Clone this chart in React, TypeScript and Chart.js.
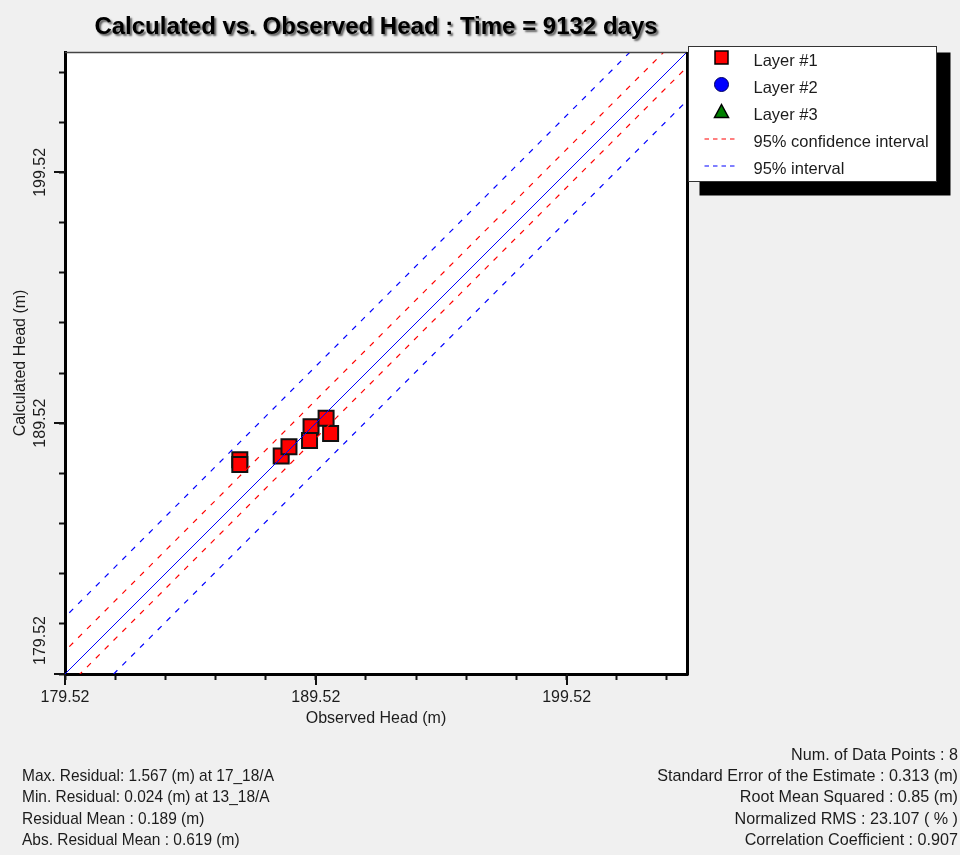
import React, { useEffect, useRef } from 'react';
import { Chart, registerables } from 'chart.js';

Chart.register(...registerables);

const FONT = '"Liberation Sans", Arial, Helvetica, sans-serif';
const TEXT = '#1c1c1c';

const TITLE = 'Calculated vs. Observed Head : Time = 9132 days';
const X_TITLE = 'Observed Head (m)';
const Y_TITLE = 'Calculated Head (m)';

const AXIS_MIN = 179.52;
const AXIS_MAX = 204.32;
const TICK_VALUES = [179.52, 181.52, 183.52, 185.52, 187.52, 189.52, 191.52, 193.52, 195.52, 197.52, 199.52, 201.52, 203.52];
const MAJOR_TICKS = [179.52, 189.52, 199.52];

// Layer #1 observations (observed head, calculated head)
const OBSERVED_L1 = [186.49, 186.49, 188.14, 188.45, 189.33, 189.27, 189.93, 190.11];
const CALCULATED_L1 = [188.06, 187.87, 188.21, 188.58, 189.38, 188.83, 189.72, 189.11];

// reference lines: y = x + offset
const LINE_X = [176.52, 207.32];
const CONF_OFFSETS = [0.92, -0.6];
const PRED_OFFSETS = [2.27, -1.94];

const LEGEND_LABELS = ['Layer #1', 'Layer #2', 'Layer #3', '95% confidence interval', '95% interval'];

const STATS_LEFT = [
  'Max. Residual: 1.567 (m) at 17_18/A',
  'Min. Residual: 0.024 (m) at 13_18/A',
  'Residual Mean : 0.189 (m)',
  'Abs. Residual Mean : 0.619 (m)',
];
const STATS_RIGHT = [
  'Num. of Data Points : 8',
  'Standard Error of the Estimate : 0.313 (m)',
  'Root Mean Squared : 0.85 (m)',
  'Normalized RMS : 23.107 ( % )',
  'Correlation Coefficient : 0.907',
];

const isMajor = (v: number) => MAJOR_TICKS.some((m) => Math.abs(m - v) < 1e-6);
const lineData = (off: number) => LINE_X.map((x) => ({ x, y: x + off }));

const DASH = [5.5, 7];
const RED = '#ff0000';
const BLUE = '#0000ff';
const TICK_FONT_SIZE = 16;

const pagePlugin = {
  id: 'page',
  beforeDraw(chart: any) {
    const { ctx, chartArea: a, width, height } = chart;
    ctx.save();
    ctx.fillStyle = '#f0f0f0';
    ctx.fillRect(0, 0, width, height);
    ctx.fillStyle = '#ffffff';
    ctx.fillRect(a.left, a.top, a.right - a.left, a.bottom - a.top);
    ctx.restore();
  },
  afterDraw(chart: any) {
    const { ctx, chartArea: a } = chart;
    const xs = chart.scales.x;
    const ys = chart.scales.y;
    ctx.save();
    ctx.setLineDash([]);
    ctx.shadowColor = 'rgba(0,0,0,0)';

    // frame top + right
    ctx.strokeStyle = '#444';
    ctx.lineWidth = 1.5;
    ctx.beginPath();
    ctx.moveTo(a.left, a.top + 0.5);
    ctx.lineTo(a.right, a.top + 0.5);
    ctx.stroke();
    ctx.strokeStyle = '#000';
    ctx.lineWidth = 3;
    ctx.beginPath();
    ctx.moveTo(a.right + 0.5, a.top);
    ctx.lineTo(a.right + 0.5, a.bottom + 1.5);
    ctx.stroke();

    // major ticks (longer)
    ctx.strokeStyle = '#111';
    ctx.lineWidth = 2;
    MAJOR_TICKS.forEach((v) => {
      const px = Math.round(xs.getPixelForValue(v));
      ctx.beginPath();
      ctx.moveTo(px, a.bottom);
      ctx.lineTo(px, a.bottom + 11);
      ctx.stroke();
      const py = Math.round(ys.getPixelForValue(v));
      ctx.beginPath();
      ctx.moveTo(a.left, py);
      ctx.lineTo(a.left - 11, py);
      ctx.stroke();
    });

    // y tick labels (rotated); the lowest one sits above its tick
    ctx.fillStyle = TEXT;
    ctx.font = `${TICK_FONT_SIZE}px ${FONT}`;
    ctx.textBaseline = 'middle';
    ys.ticks.forEach((t: any, idx: number) => {
      if (!isMajor(t.value)) return;
      const py = ys.getPixelForValue(t.value);
      ctx.save();
      if (idx === 0) {
        ctx.translate(41, py - 9);
        ctx.textAlign = 'left';
      } else {
        ctx.translate(41, py);
        ctx.textAlign = 'center';
      }
      ctx.rotate(-Math.PI / 2);
      ctx.fillText(t.value.toFixed(2), 0, 0);
      ctx.restore();
    });

    // title with shadow
    ctx.save();
    ctx.font = `bold 24px ${FONT}`;
    ctx.textAlign = 'center';
    ctx.textBaseline = 'alphabetic';
    ctx.shadowColor = 'rgba(0,0,0,0.6)';
    ctx.shadowOffsetX = 2;
    ctx.shadowOffsetY = 2;
    ctx.shadowBlur = 2;
    ctx.fillStyle = '#000';
    ctx.fillText(TITLE, (a.left + a.right) / 2, 34);
    ctx.restore();

    // legend
    const lx = a.right + 1.5;
    const ly = a.top - 5.5;
    const lw = 248;
    const lh = 135;
    ctx.fillStyle = '#000';
    ctx.fillRect(lx + 11, ly + 6, lw + 3, lh + 8);
    ctx.fillStyle = '#fff';
    ctx.fillRect(lx, ly, lw, lh);
    ctx.strokeStyle = '#333';
    ctx.lineWidth = 1;
    ctx.strokeRect(lx, ly, lw, lh);

    const datasets = chart.data.datasets;
    LEGEND_LABELS.forEach((label, i) => {
      const ds = datasets.find((d: any) => d.label === label);
      const cy = ly + 11 + i * 27;
      const cx = lx + 33;
      ctx.save();
      if (ds.showLine) {
        ctx.strokeStyle = ds.borderColor;
        ctx.lineWidth = 1.2;
        ctx.setLineDash([4.5, 4]);
        ctx.beginPath();
        ctx.moveTo(cx - 17, cy + 0.5);
        ctx.lineTo(cx + 16, cy + 0.5);
        ctx.stroke();
      } else {
        ctx.fillStyle = ds.backgroundColor;
        ctx.beginPath();
        if (ds.pointStyle === 'rect') {
          ctx.rect(cx - 6.5, cy - 6.5, 13, 13);
        } else if (ds.pointStyle === 'circle') {
          ctx.arc(cx, cy, 7, 0, Math.PI * 2);
        } else {
          ctx.moveTo(cx, cy - 7);
          ctx.lineTo(cx + 7, cy + 6);
          ctx.lineTo(cx - 7, cy + 6);
          ctx.closePath();
        }
        ctx.fill();
        ctx.lineWidth = ds.pointStyle === 'circle' ? 1 : 1.5;
        ctx.strokeStyle = ds.pointStyle === 'circle' ? '#000060' : '#000';
        ctx.stroke();
      }
      ctx.restore();
      ctx.fillStyle = TEXT;
      ctx.font = `16.5px ${FONT}`;
      ctx.textAlign = 'left';
      ctx.textBaseline = 'middle';
      ctx.fillText(label, lx + 65, cy + 4);
    });

    // statistics
    ctx.fillStyle = TEXT;
    ctx.font = `17px ${FONT}`;
    ctx.textBaseline = 'middle';
    const y0 = 755;
    const dy = 21.4;
    STATS_RIGHT.forEach((s, i) => {
      ctx.save();
      ctx.translate(958, y0 + i * dy);
      ctx.scale(0.95, 1);
      ctx.textAlign = 'right';
      ctx.fillText(s, 0, 0);
      ctx.restore();
    });
    STATS_LEFT.forEach((s, i) => {
      ctx.save();
      ctx.translate(22, y0 + (i + 1) * dy);
      ctx.scale(0.91, 1);
      ctx.textAlign = 'left';
      ctx.fillText(s, 0, 0);
      ctx.restore();
    });

    ctx.restore();
  },
};

function makeAxis(axis: 'x' | 'y') {
  const common: any = {
    type: 'linear',
    min: AXIS_MIN,
    max: AXIS_MAX,
    afterBuildTicks: (s: any) => {
      s.ticks = TICK_VALUES.map((v) => ({ value: v }));
    },
    grid: {
      drawOnChartArea: false,
      drawTicks: true,
      tickLength: 6,
      tickWidth: 2,
      tickColor: '#111',
    },
    border: { display: true, color: '#000', width: 3 },
  };
  if (axis === 'x') {
    return {
      ...common,
      position: 'bottom',
      afterFit: (s: any) => {
        s.height = 70;
      },
      ticks: {
        autoSkip: false,
        maxRotation: 0,
        minRotation: 0,
        padding: 8,
        color: TEXT,
        font: { family: FONT, size: TICK_FONT_SIZE },
        callback: (v: number) => (isMajor(v) ? v.toFixed(2) : ''),
      },
      title: {
        display: true,
        text: X_TITLE,
        color: TEXT,
        font: { family: FONT, size: 16 },
        padding: { top: 0, bottom: 16 },
      },
    };
  }
  return {
    ...common,
    position: 'left',
    afterFit: (s: any) => {
      s.width = 65;
    },
    ticks: { display: false, autoSkip: false },
    title: {
      display: true,
      text: Y_TITLE,
      color: TEXT,
      font: { family: FONT, size: 16 },
      padding: { top: 11, bottom: 0 },
    },
  };
}

export default function App() {
  const ref = useRef<HTMLCanvasElement>(null);
  useEffect(() => {
    const refLine = (label: string, off: number, color: string, dash: number[]) => ({
      type: 'line',
      label,
      data: lineData(off),
      showLine: true,
      fill: false,
      borderColor: color,
      backgroundColor: color,
      borderWidth: dash.length ? 1.2 : 1,
      borderDash: dash,
      pointRadius: 0,
      pointHoverRadius: 0,
      order: 0,
    });
    const chart = new Chart(ref.current as HTMLCanvasElement, {
      type: 'scatter',
      data: {
        datasets: [
          refLine('1:1', 0, BLUE, []),
          refLine('95% confidence interval', CONF_OFFSETS[0], RED, DASH),
          refLine('95% confidence interval (lower)', CONF_OFFSETS[1], RED, DASH),
          refLine('95% interval', PRED_OFFSETS[0], BLUE, DASH),
          refLine('95% interval (lower)', PRED_OFFSETS[1], BLUE, DASH),
          {
            label: 'Layer #1',
            data: OBSERVED_L1.map((x, i) => ({ x, y: CALCULATED_L1[i] })),
            pointStyle: 'rect',
            pointRadius: 10.6,
            pointHoverRadius: 10.6,
            backgroundColor: RED,
            borderColor: '#111',
            borderWidth: 2,
            order: 1,
          },
          {
            label: 'Layer #2',
            data: [],
            pointStyle: 'circle',
            backgroundColor: BLUE,
            borderColor: '#000',
            order: 1,
          },
          {
            label: 'Layer #3',
            data: [],
            pointStyle: 'triangle',
            backgroundColor: '#008000',
            borderColor: '#000',
            order: 1,
          },
        ] as any,
      },
      options: {
        responsive: false,
        animation: false,
        devicePixelRatio: 1,
        layout: { padding: { left: 0, top: 52, right: 273, bottom: 111 } },
        plugins: {
          legend: { display: false },
          title: { display: false },
          tooltip: { enabled: false },
          colors: { enabled: false },
        },
        events: [],
        scales: {
          x: makeAxis('x'),
          y: makeAxis('y'),
        } as any,
      },
      plugins: [pagePlugin],
    });
    return () => chart.destroy();
  }, []);
  return (
    <div style={{ position: 'fixed', left: 0, top: 0, width: 960, height: 855, background: '#f0f0f0' }}>
      <canvas ref={ref} width={960} height={855} style={{ display: 'block', width: 960, height: 855 }} />
    </div>
  );
}
